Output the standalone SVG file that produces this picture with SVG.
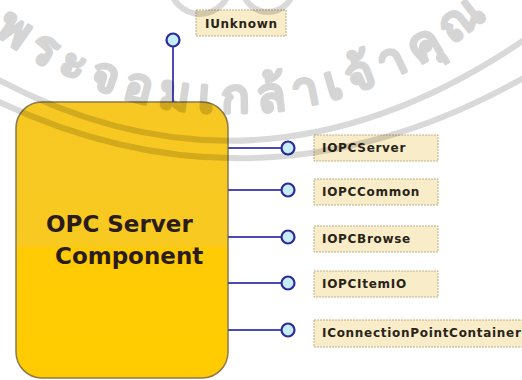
<svg xmlns="http://www.w3.org/2000/svg" width="522" height="380" viewBox="0 0 522 380">
  <defs>
    <linearGradient id="bodyFill" x1="0" y1="0" x2="0" y2="1">
      <stop offset="0" stop-color="#f7c823"/>
      <stop offset="0.52" stop-color="#f8c920"/>
      <stop offset="0.53" stop-color="#ffcb05"/>
      <stop offset="1" stop-color="#ffcb00"/>
    </linearGradient>
    <!-- baseline for the curved seal lettering -->
    <path id="sealText" d="M -30,14 A 390,390 0 0 0 520,-16"/>
  </defs>
  <style>
    .lbl { fill: #f8ecc9; stroke: #bfae86; stroke-width: 1; stroke-dasharray: 2 1; }
    .lbl-text { font-family: "DejaVu Sans", Verdana, sans-serif; font-weight: bold; font-size: 12px; letter-spacing: 0.7px; fill: #2a2418; }
    .wire { stroke: #4b4bb8; stroke-width: 2; fill: none; }
    .lollipop { fill: #c6ecf8; stroke: #2b2b9c; stroke-width: 2.2; }
    .title { font-family: "DejaVu Sans", Verdana, sans-serif; font-weight: bold; font-size: 23px; fill: #2b1c1c; }
    .seal { fill: none; stroke: #000; stroke-opacity: 0.15; stroke-width: 6; }
    .seal-text { font-family: "Noto Sans", "DejaVu Sans", sans-serif; font-weight: bold; font-size: 48px; fill: #000; stroke: #000; stroke-width: 2.2; stroke-linejoin: round; }
  </style>

  <rect width="522" height="380" fill="#ffffff"/>

  <!-- component body -->
  <g id="opc-server-component">
    <rect x="16" y="102" width="212" height="276" rx="26" ry="26" fill="url(#bodyFill)" stroke="#8c7a4a" stroke-width="1.5"/>
    <text class="title" x="46" y="232">OPC Server</text>
    <text class="title" x="55" y="264">Component</text>
  </g>

  <!-- interface connectors -->
  <g id="connectors">
    <line class="wire" x1="173" y1="46" x2="173" y2="102"/>
    <line class="wire" x1="228" y1="148" x2="282" y2="148"/>
    <line class="wire" x1="228" y1="190" x2="282" y2="190"/>
    <line class="wire" x1="228" y1="237" x2="282" y2="237"/>
    <line class="wire" x1="228" y1="283" x2="282" y2="283"/>
    <line class="wire" x1="228" y1="330" x2="282" y2="330"/>
  </g>

  <!-- interfaces -->
  <g id="iunknown">
    <circle class="lollipop" cx="173" cy="40" r="6.5"/>
    <rect class="lbl" x="196" y="10" width="90" height="26"/>
    <text class="lbl-text" x="205" y="27.5">IUnknown</text>
  </g>
  <g id="iopcserver">
    <circle class="lollipop" cx="288" cy="148" r="6.5"/>
    <rect class="lbl" x="314" y="135" width="124" height="26"/>
    <text class="lbl-text" x="322" y="152">IOPCServer</text>
  </g>
  <g id="iopccommon">
    <circle class="lollipop" cx="288" cy="190" r="6.5"/>
    <rect class="lbl" x="314" y="179" width="124" height="26"/>
    <text class="lbl-text" x="322" y="196">IOPCCommon</text>
  </g>
  <g id="iopcbrowse">
    <circle class="lollipop" cx="288" cy="237" r="6.5"/>
    <rect class="lbl" x="314" y="226" width="124" height="26"/>
    <text class="lbl-text" x="322" y="243">IOPCBrowse</text>
  </g>
  <g id="iopcitemio">
    <circle class="lollipop" cx="288" cy="283" r="6.5"/>
    <rect class="lbl" x="314" y="271" width="124" height="26"/>
    <text class="lbl-text" x="322" y="288">IOPCItemIO</text>
  </g>
  <g id="iconnectionpointcontainer">
    <circle class="lollipop" cx="288" cy="330" r="6.5"/>
    <rect class="lbl" x="314" y="320" width="220" height="27"/>
    <text class="lbl-text" x="322" y="337">IConnectionPointContainer</text>
  </g>

  <!-- seal overlay -->
  <g id="seal">
    <path class="seal" d="M -5,78 Q 261,221 527,38"/>
    <path class="seal" d="M -5,100 Q 261,227.5 527,76"/>
    <circle class="seal" cx="200" cy="-16" r="30"/>
    <circle class="seal" cx="268" cy="-14" r="26"/>
    <g opacity="0.16">
      <text class="seal-text"><textPath href="#sealText" startOffset="30" textLength="535" lengthAdjust="spacing">พระจอมเกล้าเจ้าคุณ</textPath></text>
    </g>
  </g>
</svg>
